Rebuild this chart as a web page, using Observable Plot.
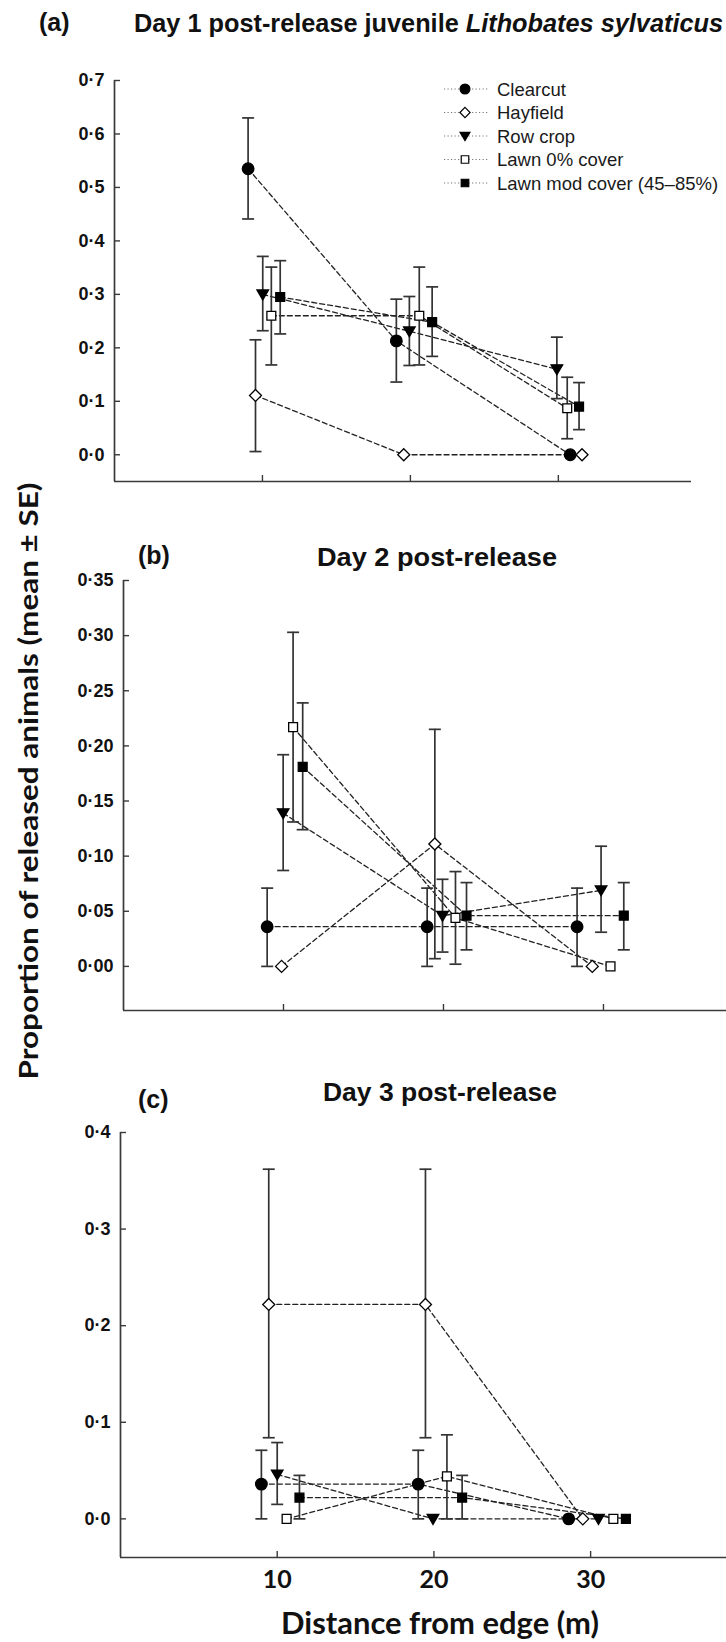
<!DOCTYPE html>
<html><head><meta charset="utf-8">
<script src="https://cdn.jsdelivr.net/npm/d3@7"></script>
<script src="https://cdn.jsdelivr.net/npm/@observablehq/plot@0.6"></script>
<style>
body{margin:0;background:#fff;}
#wrap{position:relative;width:726px;height:1642px;overflow:hidden;background:#fff;}
#wrap > svg{position:absolute;left:0;}
#overlay{position:absolute;left:0;top:0;pointer-events:none;}
</style></head><body><div id="wrap"></div>
<script>
// ---------------- data ----------------
const habitats = ["Clearcut", "Hayfield", "Row crop", "Lawn 0% cover", "Lawn mod cover (45–85%)"];
const distanceTicks = [10, 20, 30];

// plotted x positions (distance, with the figure's horizontal offsets), per habitat
const day1X    = [[9.03, 19.05, 30.8], [9.53, 19.55, 31.6], [10.02, 19.93, 29.9], [10.6, 20.6, 30.6], [11.2, 21.47, 31.4]];
const day1Mean = [[0.535, 0.213, 0.0], [0.111, 0.0, 0.0], [0.300, 0.231, 0.160], [0.260, 0.260, 0.087], [0.295, 0.248, 0.090]];
const day1Hi   = [[0.630, 0.291, null], [0.215, null, null], [0.371, 0.296, 0.220], [0.351, 0.351, 0.145], [0.363, 0.314, 0.135]];
const day1Lo   = [[0.441, 0.136, null], [0.006, null, null], [0.232, 0.167, 0.105], [0.168, 0.168, 0.030], [0.226, 0.184, 0.047]];

const day2X    = [[8.98, 18.98, 28.35], [9.88, 19.46, 29.3], [9.98, 19.94, 29.85], [10.6, 20.75, 30.44], [11.2, 21.44, 31.27]];
const day2Mean = [[0.036, 0.036, 0.036], [0.0, 0.111, 0.0], [0.139, 0.046, 0.069], [0.217, 0.044, 0.0], [0.181, 0.046, 0.046]];
const day2Hi   = [[0.071, 0.071, 0.071], [null, 0.215, null], [0.192, 0.079, 0.109], [0.303, 0.086, null], [0.239, 0.076, 0.076]];
const day2Lo   = [[0.0, 0.0, 0.0], [null, 0.007, null], [0.087, 0.013, 0.031], [0.131, 0.002, null], [0.124, 0.015, 0.015]];

const day3X    = [[8.99, 19.0, 28.6], [9.46, 19.46, 29.5], [10.0, 19.94, 30.5], [10.6, 20.83, 31.45], [11.42, 21.8, 32.25]];
const day3Mean = [[0.036, 0.036, 0.0], [0.222, 0.222, 0.0], [0.046, 0.0, 0.0], [0.0, 0.044, 0.0], [0.022, 0.022, 0.0]];
const day3Hi   = [[0.071, 0.071, null], [0.362, 0.362, null], [0.079, null, null], [null, 0.087, null], [0.045, 0.045, null]];
const day3Lo   = [[0.0, 0.0, null], [0.084, 0.084, null], [0.015, null, null], [null, 0.0, null], [0.0, 0.0, null]];

const yTicksA = [0, 0.1, 0.2, 0.3, 0.4, 0.5, 0.6, 0.7];
const yTicksB = [0, 0.05, 0.10, 0.15, 0.20, 0.25, 0.30, 0.35];
const yTicksC = [0, 0.1, 0.2, 0.3, 0.4];

// ---------------- styles ----------------
const ink = "#111";
const axisColor = "#3a3a3a";
const triDown = {draw(ctx, size) { const r = Math.sqrt(size / Math.PI); ctx.moveTo(-r, -r * 0.75); ctx.lineTo(r, -r * 0.75); ctx.lineTo(0, r * 0.95); ctx.closePath(); }};
const cap = {draw(ctx, size) { const r = Math.sqrt(size / Math.PI); ctx.moveTo(-r, 0); ctx.lineTo(r, 0); }};
const markerStyle = [
  {symbol: "circle", r: 5.8, fill: "#000"},
  {symbol: "diamond2", r: 5.4, fill: "#fff"},
  {symbol: triDown, r: 5.8, fill: "#000"},
  {symbol: "square", r: 5.0, fill: "#fff"},
  {symbol: "square", r: 5.0, fill: "#000"}
];
const sansBold = "'Liberation Sans', Arial, sans-serif";
const caliBold = "Lato, 'Open Sans', sans-serif";

function dotFmt(digits) { return d => d.toFixed(digits).replace(".", "·"); }

function makePanel(o) {
  const rows = [];
  o.X.forEach((xs, s) => xs.forEach((x, k) => rows.push({s, x, y: o.M[s][k], hi: o.H[s][k], lo: o.L[s][k]})));
  const err = rows.filter(d => d.hi != null);
  const marks = [
    Plot.ruleX([o.xDomain[0]], {stroke: axisColor, strokeWidth: 1.7}),
    Plot.ruleY([o.yDomain[0]], {stroke: axisColor, strokeWidth: 1.7}),
    Plot.axisY({ticks: o.yTicks, tickFormat: o.fmt, tickSize: -6, tickPadding: 16, stroke: axisColor, strokeWidth: 1.4,
      fill: ink, fontSize: 18, fontWeight: "bold", fontFamily: sansBold, label: null}),
    Plot.axisX({ticks: distanceTicks, tickSize: -6, tickPadding: 19, stroke: axisColor, strokeWidth: 1.4,
      tickFormat: o.xLabels ? d => String(d) : () => "", fill: ink, fontSize: 25, fontWeight: "bold", fontFamily: caliBold, label: null}),
    Plot.line(rows, {x: "x", y: "y", z: "s", stroke: "#222", strokeWidth: 1.3, strokeDasharray: "5,3"}),
    Plot.ruleX(err, {x: "x", y1: "lo", y2: "hi", stroke: "#333", strokeWidth: 1.7}),
    Plot.dot(err, {x: "x", y: "hi", symbol: cap, r: 6, fill: "none", stroke: "#333", strokeWidth: 1.7}),
    Plot.dot(err, {x: "x", y: "lo", symbol: cap, r: 6, fill: "none", stroke: "#333", strokeWidth: 1.7}),
    ...habitats.map((h, s) => Plot.dot(rows.filter(d => d.s === s), {
      x: "x", y: "y", symbol: markerStyle[s].symbol, r: markerStyle[s].r,
      fill: markerStyle[s].fill, stroke: "#000", strokeWidth: 1.3}))
  ];
  const svg = Plot.plot({
    width: 726, height: o.height,
    marginTop: o.mt, marginBottom: o.mb, marginLeft: o.ml, marginRight: o.mr,
    x: {domain: o.xDomain},
    y: {domain: o.yDomain},
    style: {background: "transparent", overflow: "visible"},
    marks
  });
  svg.style.top = o.top + "px";
  return svg;
}

const wrap = document.getElementById("wrap");
wrap.appendChild(makePanel({X: day1X, M: day1Mean, H: day1Hi, L: day1Lo, yDomain: [-0.05, 0.7], yTicks: yTicksA, fmt: dotFmt(1),
  xDomain: [0, 39], top: 70, height: 421, mt: 10, mb: 10, ml: 114, mr: 35, xLabels: false}));
wrap.appendChild(makePanel({X: day2X, M: day2Mean, H: day2Hi, L: day2Lo, yDomain: [-0.04, 0.35], yTicks: yTicksB, fmt: dotFmt(2),
  xDomain: [0, 37.69], top: 570, height: 450, mt: 10, mb: 10, ml: 123, mr: 0, xLabels: false}));
wrap.appendChild(makePanel({X: day3X, M: day3Mean, H: day3Hi, L: day3Lo, yDomain: [-0.04, 0.4], yTicks: yTicksC, fmt: dotFmt(1),
  xDomain: [0, 38.67], top: 1122, height: 475, mt: 10, mb: 40, ml: 120, mr: 0, xLabels: true}));

// ---------------- titles, axis titles, legend ----------------
const ov = d3.select(wrap).append("svg").attr("id", "overlay").attr("width", 726).attr("height", 1642);
function label(x, y, txt, size, fam, len) {
  const t = ov.append("text").attr("x", x).attr("y", y).attr("fill", ink)
    .attr("font-family", fam).attr("font-weight", "bold").attr("font-size", size).text(txt);
  if (len) t.attr("textLength", len).attr("lengthAdjust", "spacingAndGlyphs");
  return t;
}
label(39, 31, "(a)", 25, sansBold);
const tA = ov.append("text").attr("x", 134).attr("y", 32).attr("fill", ink).attr("font-family", sansBold)
  .attr("font-weight", "bold").attr("font-size", 25).attr("textLength", 589).attr("lengthAdjust", "spacingAndGlyphs");
tA.append("tspan").text("Day 1 post-release juvenile ");
tA.append("tspan").attr("font-style", "italic").text("Lithobates sylvaticus");
label(138, 564, "(b)", 25, sansBold);
label(317, 566, "Day 2 post-release", 25, sansBold, 240);
label(138, 1108, "(c)", 25, sansBold);
label(323, 1101, "Day 3 post-release", 25, sansBold, 234);

ov.append("text").attr("transform", "translate(28,781) rotate(-90)").attr("text-anchor", "middle")
  .attr("dominant-baseline", "central").attr("fill", ink).attr("font-family", caliBold).attr("font-weight", "bold")
  .attr("font-size", 26).attr("textLength", 597).attr("lengthAdjust", "spacingAndGlyphs")
  .text("Proportion of released animals (mean ± SE)");
ov.append("text").attr("x", 440).attr("y", 1634).attr("text-anchor", "middle").attr("fill", ink)
  .attr("font-family", caliBold).attr("font-weight", "bold").attr("font-size", 30)
  .attr("textLength", 318).attr("lengthAdjust", "spacingAndGlyphs").text("Distance from edge (m)");

habitats.forEach((h, i) => {
  const y = 89 + i * 23.5;
  ov.append("line").attr("x1", 444).attr("x2", 488).attr("y1", y).attr("y2", y)
    .attr("stroke", "#777").attr("stroke-width", 1.1).attr("stroke-dasharray", "1.2,2.3");
  const st = markerStyle[i];
  const sym = typeof st.symbol === "string"
    ? {circle: d3.symbolCircle, diamond2: d3.symbolDiamond2, square: d3.symbolSquare}[st.symbol] : st.symbol;
  const rr = st.r * 0.85;
  ov.append("path").attr("d", d3.symbol(sym, rr * rr * Math.PI)()).attr("transform", `translate(465,${y})`)
    .attr("fill", st.fill).attr("stroke", "#000").attr("stroke-width", 1.2);
  ov.append("text").attr("x", 497).attr("y", y + 6.5).attr("fill", "#1a1a1a")
    .attr("font-family", "'Liberation Sans', Arial, sans-serif").attr("font-size", 18.5).text(h);
});
</script></body></html>
